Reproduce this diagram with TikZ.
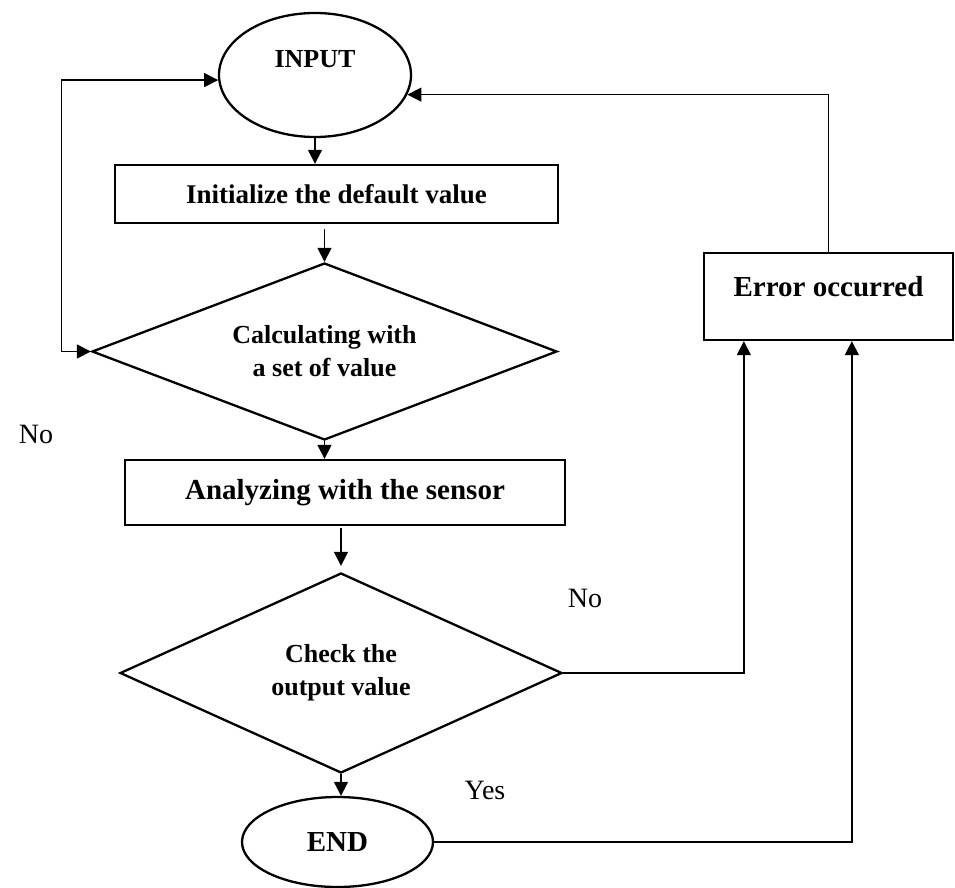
\documentclass[tikz,border=0pt]{standalone}
\usepackage{fontspec}
\setmainfont{Liberation Serif}
\usetikzlibrary{shapes.geometric,arrows.meta,calc}
\begin{document}
\begin{tikzpicture}[x=1pt,y=-1pt,
  shapeline/.style={draw=black,line width=2.3pt,inner sep=0pt},
  procbox/.style={shapeline,rectangle},
  decbox/.style={shapeline,diamond,align=center,font=\fontsize{26}{33}\selectfont\bfseries},
  termbox/.style={shapeline,ellipse},
  conn/.style={draw=black,line width=1.3pt,-{Triangle[length=14pt,width=14pt]}},
  lbl/.style={font=\fontsize{28}{32}\selectfont,inner sep=0pt}]
\useasboundingbox (0,0) rectangle (955,888);
% nodes
\node[termbox,minimum width=192pt,minimum height=124pt,text height=18pt,text depth=32pt,
      font=\fontsize{26}{30}\selectfont\bfseries] (input) at (315,75) {INPUT};
\node[procbox,minimum width=443pt,minimum height=58pt,font=\fontsize{27}{32}\selectfont\bfseries] (box1) at (336.5,194) {Initialize the default value};
\node[decbox,shape aspect=2.63,minimum width=465pt,minimum height=177pt] (d1) at (324.5,351.5) {Calculating with\\a set of value};
\node[procbox,minimum width=440pt,minimum height=65pt,font=\fontsize{29}{34}\selectfont\bfseries] (box2) at (345,492.5) {Analyzing with the sensor};
\node[decbox,shape aspect=2.21,minimum width=442pt,minimum height=200pt] (d2) at (341,673) {Check the\\output value};
\node[termbox,minimum width=191pt,minimum height=90pt,font=\fontsize{29}{34}\selectfont\bfseries] (end) at (337.5,842) {END};
\node[procbox,minimum width=249pt,minimum height=87pt,text height=19pt,text depth=19pt,
      font=\fontsize{29}{34}\selectfont\bfseries] (err) at (828.5,296.5) {Error occurred};
% labels
\node[lbl] (no1) at (36,434) {No};
\node[lbl] (no2) at (585,598) {No};
\node[lbl] (yes) at (485,790) {Yes};
% connectors
\draw[conn] (input.south) -- (input.south |- box1.north);
\draw[conn] ([yshift=-5pt]d1.north |- box1.south) -- (d1.north);
\draw[conn] (d1.south) -- (d1.south |- box2.north);
\draw[conn] ([yshift=-2pt]d2.north |- box2.south) -- ([yshift=6pt]d2.north);
\draw[conn] (d2.south) -- (d2.south |- end.north);
\draw[conn] (d2.east) -| ([xshift=41pt]err.south west);
\draw[conn] (end.east) -| ([xshift=149pt]err.south west);
\draw[conn] (err.north) |- (input.-12);
\draw[draw=black,line width=1.3pt,{Triangle[length=14pt,width=14pt]}-{Triangle[length=14pt,width=14pt]}]
  (d1.west) -| ([xshift=-157pt]input.183) -- (input.183);
\end{tikzpicture}
\end{document}
